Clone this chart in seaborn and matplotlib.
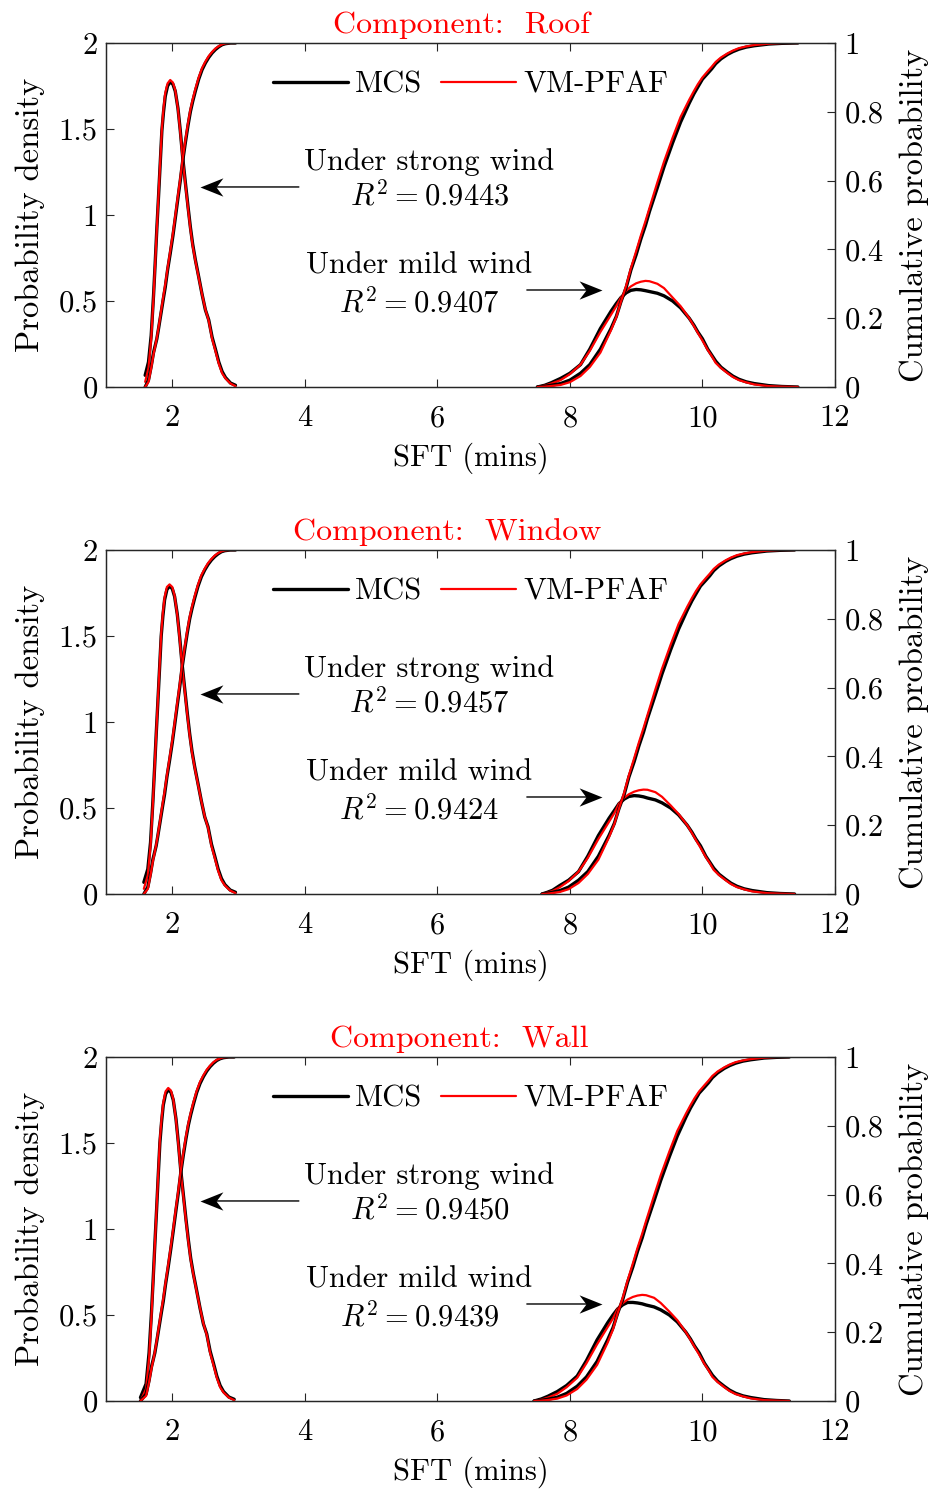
import numpy as np
import pandas as pd
import matplotlib
matplotlib.use("Agg")
import matplotlib.pyplot as plt
from matplotlib.path import Path
import seaborn as sns

sns.set_theme(style="white")
plt.rcParams['font.family'] = ['cmr10', 'DejaVu Serif']
plt.rcParams['mathtext.fontset'] = 'cm'
plt.rcParams['axes.unicode_minus'] = False
plt.rcParams['axes.formatter.use_mathtext'] = True
plt.rcParams['text.color'] = 'black'
plt.rcParams['axes.labelcolor'] = 'black'

# ---------------- data ----------------
components = ["Roof", "Window", "Wall"]
r2_strong = ["0.9443", "0.9457", "0.9450"]
r2_mild = ["0.9407", "0.9424", "0.9439"]

# ---- Roof ----
roof_s_x = [1.591, 1.641, 1.682, 1.717, 1.742, 1.767, 1.793, 1.818, 1.843, 1.868, 1.894, 1.929, 1.969, 2.010, 2.045, 2.086, 2.121,
            2.156, 2.197, 2.237, 2.273, 2.308, 2.348, 2.399, 2.449, 2.500, 2.550, 2.601, 2.651, 2.702, 2.752, 2.803, 2.879, 2.954]
roof_s_pdf_mcs = [0.068, 0.145, 0.30, 0.53, 0.72, 0.92, 1.11, 1.30, 1.49, 1.60, 1.69, 1.75, 1.775, 1.76, 1.72, 1.62, 1.49,
                  1.34, 1.19, 1.05, 0.93, 0.83, 0.74, 0.64, 0.54, 0.448, 0.39, 0.29, 0.22, 0.145, 0.09, 0.055, 0.023, 0.01]
roof_s_pdf_vm = [0.03, 0.11, 0.28, 0.52, 0.72, 0.92, 1.12, 1.31, 1.50, 1.62, 1.71, 1.765, 1.785, 1.77, 1.725, 1.615, 1.48,
                 1.33, 1.18, 1.04, 0.92, 0.82, 0.735, 0.635, 0.54, 0.45, 0.385, 0.28, 0.21, 0.135, 0.08, 0.05, 0.02, 0.005]
roof_s_cdf_mcs = [0.0, 0.02, 0.06, 0.10, 0.12, 0.14, 0.17, 0.20, 0.23, 0.26, 0.29, 0.34, 0.388, 0.44, 0.49, 0.55, 0.60,
                  0.655, 0.71, 0.76, 0.80, 0.83, 0.86, 0.895, 0.922, 0.942, 0.958, 0.971, 0.981, 0.989, 0.995, 0.998, 1.0, 1.0]
roof_s_cdf_vm = [0.0, 0.015, 0.055, 0.095, 0.118, 0.143, 0.173, 0.204, 0.236, 0.267, 0.298, 0.345, 0.395, 0.447, 0.497, 0.557, 0.607,
                 0.662, 0.717, 0.767, 0.806, 0.836, 0.866, 0.90, 0.927, 0.946, 0.962, 0.974, 0.984, 0.991, 0.996, 0.999, 1.0, 1.0]
roof_m_x = [7.51, 7.62, 7.72, 7.86, 8.00, 8.16, 8.30, 8.46, 8.62, 8.70, 8.77, 8.85, 8.92, 9.00, 9.07, 9.14, 9.20, 9.32, 9.42,
            9.55, 9.67, 9.80, 9.87, 9.93, 10.00, 10.08, 10.14, 10.20, 10.28, 10.38, 10.46, 10.55, 10.66, 10.78, 11.00, 11.20, 11.44]
roof_m_pdf_mcs = [0.0, 0.01, 0.025, 0.05, 0.08, 0.13, 0.22, 0.34, 0.44, 0.485, 0.52, 0.548, 0.562, 0.567, 0.565, 0.56, 0.555, 0.545, 0.53,
                  0.50, 0.46, 0.40, 0.36, 0.32, 0.28, 0.22, 0.185, 0.15, 0.115, 0.085, 0.063, 0.045, 0.03, 0.02, 0.008, 0.003, 0.0]
roof_m_pdf_vm = [0.0, 0.008, 0.02, 0.04, 0.075, 0.13, 0.21, 0.32, 0.42, 0.47, 0.52, 0.56, 0.585, 0.603, 0.612, 0.617, 0.615, 0.60, 0.575,
                 0.52, 0.47, 0.40, 0.355, 0.315, 0.27, 0.215, 0.18, 0.14, 0.11, 0.08, 0.058, 0.04, 0.027, 0.015, 0.005, 0.002, 0.0]
roof_m_cdf_mcs = [0.0, 0.002, 0.005, 0.01, 0.02, 0.04, 0.065, 0.11, 0.17, 0.205, 0.248, 0.29, 0.34, 0.385, 0.43, 0.47, 0.51, 0.58, 0.64,
                  0.71, 0.77, 0.825, 0.852, 0.872, 0.895, 0.912, 0.925, 0.94, 0.954, 0.967, 0.975, 0.982, 0.988, 0.992, 0.997, 0.999, 1.0]
roof_m_cdf_vm = [0.0, 0.001, 0.003, 0.006, 0.014, 0.032, 0.058, 0.10, 0.165, 0.203, 0.248, 0.295, 0.345, 0.395, 0.44, 0.482, 0.52, 0.595, 0.655,
                 0.725, 0.785, 0.835, 0.86, 0.88, 0.90, 0.918, 0.931, 0.945, 0.958, 0.97, 0.978, 0.985, 0.99, 0.994, 0.998, 1.0, 1.0]

# ---- Window ----
window_s_x = [1.571, 1.631, 1.672, 1.707, 1.732, 1.757, 1.783, 1.808, 1.833, 1.858, 1.884, 1.919, 1.959, 2.000, 2.035, 2.076, 2.111,
              2.146, 2.187, 2.227, 2.263, 2.298, 2.338, 2.389, 2.439, 2.490, 2.540, 2.591, 2.641, 2.692, 2.742, 2.793, 2.874, 2.954]
window_s_pdf_mcs = [0.068, 0.145, 0.30, 0.535, 0.725, 0.925, 1.12, 1.31, 1.50, 1.615, 1.71, 1.77, 1.79, 1.775, 1.73, 1.625, 1.495,
                    1.345, 1.195, 1.05, 0.93, 0.83, 0.74, 0.64, 0.54, 0.448, 0.39, 0.29, 0.22, 0.145, 0.09, 0.055, 0.023, 0.01]
window_s_pdf_vm = [0.03, 0.11, 0.28, 0.525, 0.725, 0.925, 1.13, 1.32, 1.515, 1.635, 1.725, 1.785, 1.80, 1.785, 1.735, 1.62, 1.485,
                   1.335, 1.185, 1.04, 0.92, 0.82, 0.735, 0.635, 0.54, 0.45, 0.385, 0.28, 0.21, 0.135, 0.08, 0.05, 0.02, 0.005]
window_s_cdf_mcs = [0.0, 0.02, 0.06, 0.10, 0.12, 0.14, 0.17, 0.20, 0.23, 0.26, 0.29, 0.34, 0.388, 0.44, 0.49, 0.55, 0.60,
                    0.655, 0.71, 0.76, 0.80, 0.83, 0.86, 0.895, 0.922, 0.942, 0.958, 0.971, 0.981, 0.989, 0.995, 0.998, 1.0, 1.0]
window_s_cdf_vm = [0.0, 0.015, 0.055, 0.095, 0.118, 0.143, 0.173, 0.204, 0.236, 0.267, 0.298, 0.345, 0.395, 0.447, 0.497, 0.557, 0.607,
                   0.662, 0.717, 0.767, 0.806, 0.836, 0.866, 0.90, 0.927, 0.946, 0.962, 0.974, 0.984, 0.991, 0.996, 0.999, 1.0, 1.0]
window_m_x = [7.58, 7.66, 7.74, 7.85, 7.98, 8.13, 8.27, 8.43, 8.59, 8.67, 8.74, 8.82, 8.89, 8.97, 9.04, 9.11, 9.17, 9.29, 9.39,
              9.52, 9.64, 9.77, 9.84, 9.90, 9.97, 10.05, 10.11, 10.17, 10.25, 10.35, 10.43, 10.52, 10.63, 10.75, 10.97, 11.17, 11.39]
window_m_pdf_mcs = [0.0, 0.01, 0.022, 0.05, 0.08, 0.13, 0.22, 0.34, 0.44, 0.485, 0.525, 0.552, 0.567, 0.572, 0.57, 0.565, 0.558, 0.547, 0.53,
                    0.50, 0.46, 0.40, 0.36, 0.32, 0.28, 0.22, 0.185, 0.15, 0.115, 0.085, 0.063, 0.045, 0.03, 0.02, 0.008, 0.003, 0.0]
window_m_pdf_vm = [0.0, 0.008, 0.018, 0.04, 0.075, 0.13, 0.21, 0.32, 0.42, 0.47, 0.525, 0.56, 0.58, 0.595, 0.603, 0.607, 0.606, 0.592, 0.565,
                   0.515, 0.465, 0.40, 0.355, 0.315, 0.27, 0.215, 0.18, 0.14, 0.11, 0.08, 0.058, 0.04, 0.027, 0.015, 0.005, 0.002, 0.0]
window_m_cdf_mcs = [0.0, 0.002, 0.005, 0.01, 0.02, 0.04, 0.065, 0.11, 0.17, 0.205, 0.248, 0.29, 0.34, 0.385, 0.43, 0.47, 0.51, 0.58, 0.64,
                    0.71, 0.77, 0.825, 0.852, 0.872, 0.895, 0.912, 0.925, 0.94, 0.954, 0.967, 0.975, 0.982, 0.988, 0.992, 0.997, 0.999, 1.0]
window_m_cdf_vm = [0.0, 0.001, 0.003, 0.006, 0.014, 0.032, 0.058, 0.10, 0.165, 0.203, 0.248, 0.295, 0.345, 0.395, 0.44, 0.482, 0.52, 0.595, 0.655,
                   0.725, 0.785, 0.835, 0.86, 0.88, 0.90, 0.918, 0.931, 0.945, 0.958, 0.97, 0.978, 0.985, 0.99, 0.994, 0.998, 1.0, 1.0]

# ---- Wall ----
wall_s_x = [1.520, 1.605, 1.650, 1.687, 1.712, 1.737, 1.763, 1.788, 1.813, 1.838, 1.864, 1.899, 1.939, 1.980, 2.015, 2.056, 2.091,
            2.126, 2.167, 2.207, 2.243, 2.278, 2.318, 2.369, 2.419, 2.470, 2.520, 2.571, 2.621, 2.672, 2.722, 2.773, 2.854, 2.934]
wall_s_pdf_mcs = [0.02, 0.10, 0.28, 0.52, 0.71, 0.91, 1.11, 1.31, 1.50, 1.62, 1.72, 1.785, 1.81, 1.795, 1.75, 1.64, 1.505,
                  1.35, 1.20, 1.055, 0.935, 0.83, 0.74, 0.64, 0.54, 0.448, 0.39, 0.29, 0.22, 0.145, 0.09, 0.055, 0.023, 0.01]
wall_s_pdf_vm = [0.0, 0.07, 0.25, 0.50, 0.70, 0.91, 1.12, 1.32, 1.52, 1.64, 1.735, 1.80, 1.82, 1.805, 1.755, 1.635, 1.495,
                 1.34, 1.19, 1.045, 0.925, 0.82, 0.735, 0.635, 0.54, 0.45, 0.385, 0.28, 0.21, 0.135, 0.08, 0.05, 0.02, 0.005]
wall_s_cdf_mcs = [0.0, 0.02, 0.06, 0.10, 0.12, 0.14, 0.17, 0.20, 0.23, 0.26, 0.29, 0.34, 0.39, 0.445, 0.495, 0.555, 0.605,
                  0.66, 0.715, 0.763, 0.802, 0.832, 0.862, 0.897, 0.923, 0.943, 0.959, 0.972, 0.982, 0.99, 0.995, 0.998, 1.0, 1.0]
wall_s_cdf_vm = [0.0, 0.015, 0.055, 0.095, 0.118, 0.143, 0.173, 0.204, 0.236, 0.267, 0.298, 0.345, 0.397, 0.452, 0.502, 0.562, 0.612,
                 0.667, 0.722, 0.77, 0.808, 0.838, 0.868, 0.902, 0.928, 0.947, 0.963, 0.975, 0.985, 0.992, 0.996, 0.999, 1.0, 1.0]
wall_m_x = [7.46, 7.57, 7.67, 7.81, 7.95, 8.11, 8.25, 8.41, 8.57, 8.65, 8.72, 8.80, 8.87, 8.95, 9.02, 9.09, 9.15, 9.27, 9.37,
            9.50, 9.62, 9.75, 9.82, 9.88, 9.95, 10.03, 10.09, 10.15, 10.23, 10.33, 10.41, 10.50, 10.61, 10.73, 10.93, 11.12, 11.31]
wall_m_pdf_mcs = [0.0, 0.012, 0.028, 0.055, 0.09, 0.145, 0.235, 0.355, 0.455, 0.50, 0.535, 0.56, 0.573, 0.573, 0.57, 0.565, 0.558, 0.547, 0.53,
                  0.50, 0.46, 0.40, 0.36, 0.32, 0.28, 0.22, 0.185, 0.15, 0.115, 0.085, 0.063, 0.045, 0.03, 0.02, 0.008, 0.003, 0.0]
wall_m_pdf_vm = [0.0, 0.008, 0.02, 0.042, 0.08, 0.135, 0.22, 0.33, 0.43, 0.48, 0.535, 0.57, 0.59, 0.605, 0.613, 0.617, 0.615, 0.60, 0.57,
                 0.52, 0.47, 0.40, 0.355, 0.315, 0.27, 0.215, 0.18, 0.14, 0.11, 0.08, 0.058, 0.04, 0.027, 0.015, 0.005, 0.002, 0.0]
wall_m_cdf_mcs = [0.0, 0.002, 0.005, 0.011, 0.022, 0.043, 0.07, 0.115, 0.178, 0.213, 0.255, 0.297, 0.345, 0.39, 0.435, 0.474, 0.513, 0.582, 0.641,
                  0.71, 0.77, 0.825, 0.852, 0.872, 0.895, 0.912, 0.925, 0.94, 0.954, 0.967, 0.975, 0.982, 0.988, 0.992, 0.997, 0.999, 1.0]
wall_m_cdf_vm = [0.0, 0.001, 0.003, 0.007, 0.016, 0.035, 0.062, 0.105, 0.17, 0.208, 0.255, 0.302, 0.35, 0.4, 0.445, 0.486, 0.524, 0.597, 0.656,
                 0.725, 0.785, 0.835, 0.86, 0.88, 0.90, 0.918, 0.931, 0.945, 0.958, 0.97, 0.978, 0.985, 0.99, 0.994, 0.998, 1.0, 1.0]

panels = {
    "Roof": (roof_s_x, roof_s_pdf_mcs, roof_s_pdf_vm, roof_s_cdf_mcs, roof_s_cdf_vm,
             roof_m_x, roof_m_pdf_mcs, roof_m_pdf_vm, roof_m_cdf_mcs, roof_m_cdf_vm),
    "Window": (window_s_x, window_s_pdf_mcs, window_s_pdf_vm, window_s_cdf_mcs, window_s_cdf_vm,
               window_m_x, window_m_pdf_mcs, window_m_pdf_vm, window_m_cdf_mcs, window_m_cdf_vm),
    "Wall": (wall_s_x, wall_s_pdf_mcs, wall_s_pdf_vm, wall_s_cdf_mcs, wall_s_cdf_vm,
             wall_m_x, wall_m_pdf_mcs, wall_m_pdf_vm, wall_m_cdf_mcs, wall_m_cdf_vm),
}

# swept-back arrow heads (tip at the origin)
HEAD_RIGHT = Path([(0, 0), (-1, 0.40), (-0.70, 0), (-1, -0.40), (0, 0)],
                  [Path.MOVETO, Path.LINETO, Path.LINETO, Path.LINETO, Path.CLOSEPOLY])
HEAD_LEFT = Path([(0, 0), (1, 0.40), (0.70, 0), (1, -0.40), (0, 0)],
                 [Path.MOVETO, Path.LINETO, Path.LINETO, Path.LINETO, Path.CLOSEPOLY])


def draw_arrow(ax, x_tail, x_tip, y, head):
    ax.annotate("", xy=(x_tip, y), xytext=(x_tail, y),
                arrowprops=dict(arrowstyle="-", color="black", lw=1.0, shrinkA=0, shrinkB=8))
    ax.plot([x_tip], [y], marker=head, markersize=33, color="black", markeredgewidth=0, linestyle="none")


# ---------------- figure ----------------
W, H = 930, 1489
fig = plt.figure(figsize=(W / 100, H / 100), dpi=100)
FS = 22
BLACK_LW = 2.4
RED_LW = 1.6
title_x = [0.487, 0.468, 0.485]

tops = [43, 550, 1057]
for i, comp in enumerate(components):
    top = tops[i]
    ax = fig.add_axes([106 / W, 1 - (top + 344) / H, 729 / W, 344 / H])
    ax2 = ax.twinx()
    (sx, spm, spv, scm, scv, mx, mpm, mpv, mcm, mcv) = panels[comp]

    sns.lineplot(x=sx, y=spm, ax=ax, color="black", linewidth=BLACK_LW, estimator=None, label="MCS")
    sns.lineplot(x=sx, y=spv, ax=ax, color="red", linewidth=RED_LW, estimator=None, label="VM-PFAF")
    sns.lineplot(x=mx, y=mpm, ax=ax, color="black", linewidth=BLACK_LW, estimator=None)
    sns.lineplot(x=mx, y=mpv, ax=ax, color="red", linewidth=RED_LW, estimator=None)
    sns.lineplot(x=sx, y=scm, ax=ax2, color="black", linewidth=BLACK_LW, estimator=None)
    sns.lineplot(x=sx, y=scv, ax=ax2, color="red", linewidth=RED_LW, estimator=None)
    sns.lineplot(x=mx, y=mcm, ax=ax2, color="black", linewidth=BLACK_LW, estimator=None)
    sns.lineplot(x=mx, y=mcv, ax=ax2, color="red", linewidth=RED_LW, estimator=None)
    for a in (ax, ax2):
        for ln in a.get_lines():
            ln.set_solid_joinstyle("round")
            ln.set_solid_capstyle("round")

    ax.set_xlim(1, 12)
    ax.set_ylim(0, 2)
    ax2.set_ylim(0, 1)
    ax.set_xticks([2, 4, 6, 8, 10, 12])
    ax.set_xticklabels(["2", "4", "6", "8", "10", "12"])
    ax.set_yticks([0, 0.5, 1, 1.5, 2])
    ax.set_yticklabels(["0", "0.5", "1", "1.5", "2"])
    ax2.set_yticks([0, 0.2, 0.4, 0.6, 0.8, 1])
    ax2.set_yticklabels(["0", "0.2", "0.4", "0.6", "0.8", "1"])
    ax.tick_params(axis="x", direction="in", top=True, bottom=True, length=6, width=0.8, labelsize=FS, pad=13,
                   colors="#262626", labelcolor="black")
    ax.tick_params(axis="y", direction="in", left=True, right=False, length=6, width=0.8, labelsize=FS, pad=6,
                   colors="#262626", labelcolor="black")
    ax2.tick_params(axis="y", direction="in", right=True, length=6, width=0.8, labelsize=FS, pad=7,
                    colors="#262626", labelcolor="black")
    for a in (ax, ax2):
        for s in a.spines.values():
            s.set_color("#262626")
            s.set_linewidth(0.9)

    ax.set_xlabel("SFT (mins)", fontsize=FS, labelpad=7)
    ax.set_ylabel("Probability density", fontsize=23.5, labelpad=10)
    ax2.set_ylabel("Cumulative probability", fontsize=23.5, labelpad=11)
    ax.set_title(f"Component:  {comp}", color="red", fontsize=23, pad=7, x=title_x[i])

    handles, labels = ax.get_legend_handles_labels()
    leg = ax.legend(handles[:2], labels[:2], loc="upper center", bbox_to_anchor=(0.5, 0.98), ncol=2,
                    frameon=False, fontsize=FS, handlelength=2.45, handletextpad=0.25, columnspacing=0.6,
                    borderaxespad=0.3)
    leg.set_zorder(10)

    # annotations
    ax.text(5.88, 1.206, "Under strong wind\n$R^2 = " + r2_strong[i] + "$", ha="center", va="center",
            multialignment="center", fontsize=FS, linespacing=1.2)
    draw_arrow(ax, 3.91, 2.42, 1.163, HEAD_LEFT)
    ax.text(5.73, 0.59, "Under mild wind\n$R^2 = " + r2_mild[i] + "$", ha="center", va="center",
            multialignment="center", fontsize=FS, linespacing=1.3)
    draw_arrow(ax, 7.35, 8.485, 0.564, HEAD_RIGHT)

fig.savefig("out.png", dpi=100)
